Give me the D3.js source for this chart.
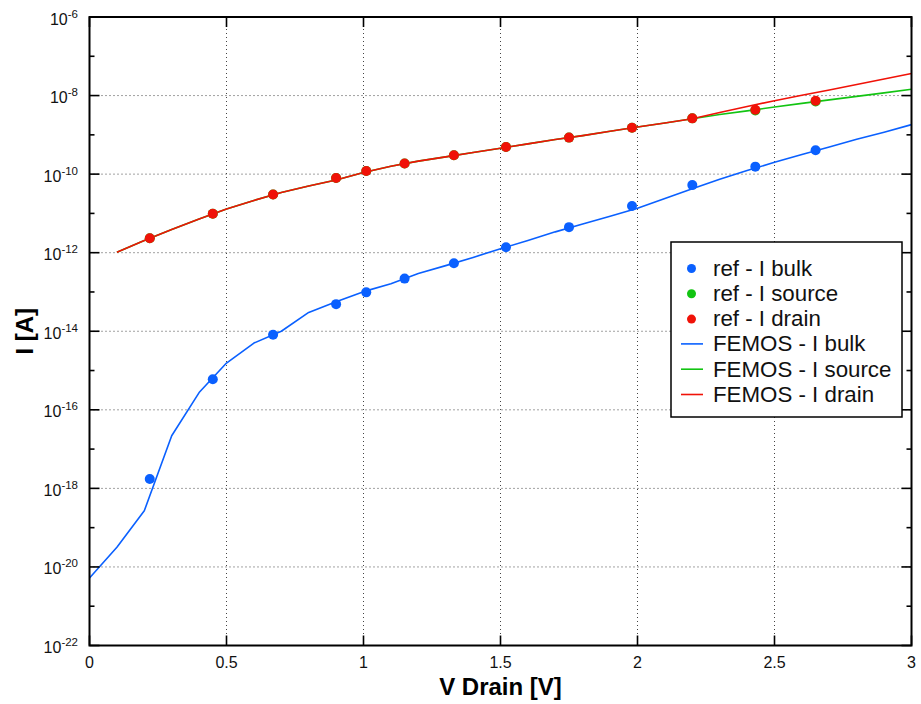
<!DOCTYPE html>
<html>
<head>
<meta charset="utf-8">
<script src="https://cdn.jsdelivr.net/npm/d3@7"></script>
<style>
  html, body { margin: 0; padding: 0; background: #fff; }
  svg { display: block; font-family: "Liberation Sans", Arial, Helvetica, sans-serif; }
</style>
</head>
<body>
<svg id="chart" width="921" height="704"></svg>
<script>
// Reference (measured) currents at sampled drain voltages
const vRef = [0.22, 0.45, 0.67, 0.90, 1.01, 1.15, 1.33, 1.52, 1.75, 1.98, 2.20, 2.43, 2.65];
const refBulk   = [1.74e-18, 6.03e-16, 8.13e-15, 4.90e-14, 9.77e-14, 2.19e-13, 5.37e-13, 1.38e-12, 4.47e-12, 1.55e-11, 5.25e-11, 1.55e-10, 4.07e-10];
const refSource = [2.34e-12, 9.77e-12, 3.02e-11, 7.94e-11, 1.20e-10, 1.86e-10, 3.02e-10, 4.90e-10, 8.51e-10, 1.51e-9, 2.63e-9, 4.17e-9, 7.08e-9];
const refDrain  = [2.34e-12, 9.77e-12, 3.02e-11, 7.94e-11, 1.20e-10, 1.86e-10, 3.02e-10, 4.90e-10, 8.51e-10, 1.51e-9, 2.63e-9, 4.37e-9, 7.41e-9];

// FEMOS simulation
const vBulk = [0.0, 0.1, 0.2, 0.3, 0.4, 0.5, 0.6, 0.7, 0.8, 0.9, 1.0, 1.1, 1.2, 1.3, 1.4, 1.5,
               1.6, 1.7, 1.8, 1.9, 2.0, 2.1, 2.2, 2.3, 2.4, 2.5, 2.6, 2.7, 2.8, 2.9, 3.0];
const femosBulk = [5.25e-21, 3.16e-20, 2.69e-19, 2.19e-17, 2.75e-16, 1.55e-15, 5.01e-15, 1.00e-14,
                   3.02e-14, 5.62e-14, 1.02e-13, 1.62e-13, 2.95e-13, 4.68e-13, 7.59e-13, 1.26e-12,
                   2.04e-12, 3.39e-12, 5.37e-12, 8.51e-12, 1.35e-11, 2.40e-11, 4.27e-11, 7.41e-11,
                   1.23e-10, 2.00e-10, 3.16e-10, 4.90e-10, 7.76e-10, 1.17e-9, 1.82e-9];
const vTerm = [0.1, 0.2, 0.3, 0.4, 0.5, 0.6, 0.7, 0.8, 0.9, 1.0, 1.1, 1.2, 1.3, 1.4, 1.5,
               1.6, 1.7, 1.8, 1.9, 2.0, 2.1, 2.2, 2.3, 2.4, 2.5, 2.6, 2.7, 2.8, 2.9, 3.0];
const femosSource = [1.02e-12, 2.04e-12, 3.89e-12, 7.24e-12, 1.29e-11, 2.14e-11, 3.39e-11, 5.01e-11,
                     7.08e-11, 1.10e-10, 1.58e-10, 2.14e-10, 2.75e-10, 3.55e-10, 4.57e-10, 5.89e-10,
                     7.59e-10, 9.55e-10, 1.23e-9, 1.58e-9, 2.00e-9, 2.57e-9, 3.31e-9, 4.07e-9,
                     5.13e-9, 6.31e-9, 7.76e-9, 9.55e-9, 1.17e-8, 1.45e-8];
const femosDrain  = [1.02e-12, 2.04e-12, 3.89e-12, 7.24e-12, 1.29e-11, 2.14e-11, 3.39e-11, 5.01e-11,
                     7.08e-11, 1.10e-10, 1.58e-10, 2.14e-10, 2.75e-10, 3.55e-10, 4.57e-10, 5.89e-10,
                     7.59e-10, 9.55e-10, 1.23e-9, 1.58e-9, 2.00e-9, 2.57e-9, 3.72e-9, 5.25e-9,
                     7.41e-9, 1.02e-8, 1.38e-8, 1.91e-8, 2.63e-8, 3.63e-8];

// Axis ticks
const xTicks = [0, 0.5, 1, 1.5, 2, 2.5, 3];
const xTickLabels = ["0", "0.5", "1", "1.5", "2", "2.5", "3"];
const yMajorExp = [-22, -20, -18, -16, -14, -12, -10, -8, -6];
const yMinorExp = [-21, -19, -17, -15, -13, -11, -9, -7];

const colors = { bulk: "#0a60ff", source: "#12c412", drain: "#f01208" };

const svg = d3.select("#chart");
const L = 89.5, R = 911.5, T = 17, B = 645.5;

const x = d3.scaleLinear().domain([0, 3]).range([L, R]);
const y = d3.scaleLog().domain([1e-22, 1e-6]).range([B, T]);

// Grid (dotted)
const grid = svg.append("g").attr("stroke", "#444").attr("stroke-width", 1)
  .attr("stroke-dasharray", "1,3");
xTicks.filter(v => v > 0 && v < 3).forEach(v => {
  grid.append("line").attr("x1", x(v)).attr("x2", x(v)).attr("y1", T).attr("y2", B);
});
yMajorExp.filter(e => e > -22 && e < -6).forEach(e => {
  grid.append("line").attr("x1", L).attr("x2", R).attr("y1", y(Math.pow(10, e))).attr("y2", y(Math.pow(10, e)));
});

// Curves
const line = d3.line().x(d => x(d[0])).y(d => y(d[1]));
const drawCurve = (xs, ys, col) => svg.append("path")
  .datum(xs.map((v, i) => [v, ys[i]]))
  .attr("d", line).attr("fill", "none").attr("stroke", col).attr("stroke-width", 1.6)
  .attr("stroke-linejoin", "round");
drawCurve(vBulk, femosBulk, colors.bulk);
drawCurve(vTerm, femosSource, colors.source);
drawCurve(vTerm, femosDrain, colors.drain);

// Reference points
const drawDots = (ys, col) => svg.append("g").selectAll("circle")
  .data(vRef.map((v, i) => [v, ys[i]])).join("circle")
  .attr("cx", d => x(d[0])).attr("cy", d => y(d[1])).attr("r", 5).attr("fill", col);
drawDots(refBulk, colors.bulk);
drawDots(refSource, colors.source);
drawDots(refDrain, colors.drain);

// Frame
svg.append("rect").attr("x", L).attr("y", T).attr("width", R - L).attr("height", B - T)
  .attr("fill", "none").attr("stroke", "#000").attr("stroke-width", 2);

// Ticks (inward, on all four sides)
const ticks = svg.append("g").attr("stroke", "#000").attr("stroke-width", 1.6);
xTicks.forEach(v => {
  ticks.append("line").attr("x1", x(v)).attr("x2", x(v)).attr("y1", B).attr("y2", B - 10);
  ticks.append("line").attr("x1", x(v)).attr("x2", x(v)).attr("y1", T).attr("y2", T + 10);
});
yMajorExp.forEach(e => {
  const yy = y(Math.pow(10, e));
  ticks.append("line").attr("x1", L).attr("x2", L + 10).attr("y1", yy).attr("y2", yy);
  ticks.append("line").attr("x1", R).attr("x2", R - 10).attr("y1", yy).attr("y2", yy);
});
yMinorExp.forEach(e => {
  const yy = y(Math.pow(10, e));
  ticks.append("line").attr("x1", L).attr("x2", L + 5).attr("y1", yy).attr("y2", yy);
  ticks.append("line").attr("x1", R).attr("x2", R - 5).attr("y1", yy).attr("y2", yy);
});

// X tick labels
svg.append("g").selectAll("text").data(xTicks).join("text")
  .attr("x", d => x(d)).attr("y", B + 22)
  .attr("text-anchor", "middle").attr("font-size", 16).attr("fill", "#111")
  .text((d, i) => xTickLabels[i]);

// Y tick labels: 10 with superscript exponent
yMajorExp.forEach(e => {
  const yy = y(Math.pow(10, e));
  const t = svg.append("text").attr("x", 78).attr("y", yy + 7.5)
    .attr("text-anchor", "end").attr("font-size", 16).attr("fill", "#111");
  t.append("tspan").text("10");
  t.append("tspan").attr("font-size", 11.5).attr("dy", -7).text(String(e));
});

// Axis titles
svg.append("text").attr("x", (L + R) / 2).attr("y", 695)
  .attr("text-anchor", "middle").attr("font-size", 24).attr("font-weight", "bold")
  .text("V Drain [V]");
svg.append("text").attr("transform", `translate(33,${(T + B) / 2}) rotate(-90)`)
  .attr("text-anchor", "middle").attr("font-size", 24).attr("font-weight", "bold")
  .text("I [A]");

// Legend
const legendItems = [
  { label: "ref - I bulk", col: colors.bulk, type: "dot" },
  { label: "ref - I source", col: colors.source, type: "dot" },
  { label: "ref - I drain", col: colors.drain, type: "dot" },
  { label: "FEMOS - I bulk", col: colors.bulk, type: "line" },
  { label: "FEMOS - I source", col: colors.source, type: "line" },
  { label: "FEMOS - I drain", col: colors.drain, type: "line" }
];
const lg = svg.append("g");
lg.append("rect").attr("x", 671).attr("y", 242).attr("width", 231).attr("height", 175)
  .attr("fill", "#fff").attr("stroke", "#000").attr("stroke-width", 1.5);
legendItems.forEach((it, i) => {
  const base = 275.5 + i * 25.3;
  if (it.type === "dot") {
    lg.append("circle").attr("cx", 691.5).attr("cy", base - 7).attr("r", 4.5).attr("fill", it.col);
  } else {
    lg.append("line").attr("x1", 681).attr("x2", 703).attr("y1", base - 7.5).attr("y2", base - 7.5)
      .attr("stroke", it.col).attr("stroke-width", 1.6);
  }
  lg.append("text").attr("x", 713).attr("y", base).attr("font-size", 22.3).attr("fill", "#111")
    .text(it.label);
});
</script>
</body>
</html>
